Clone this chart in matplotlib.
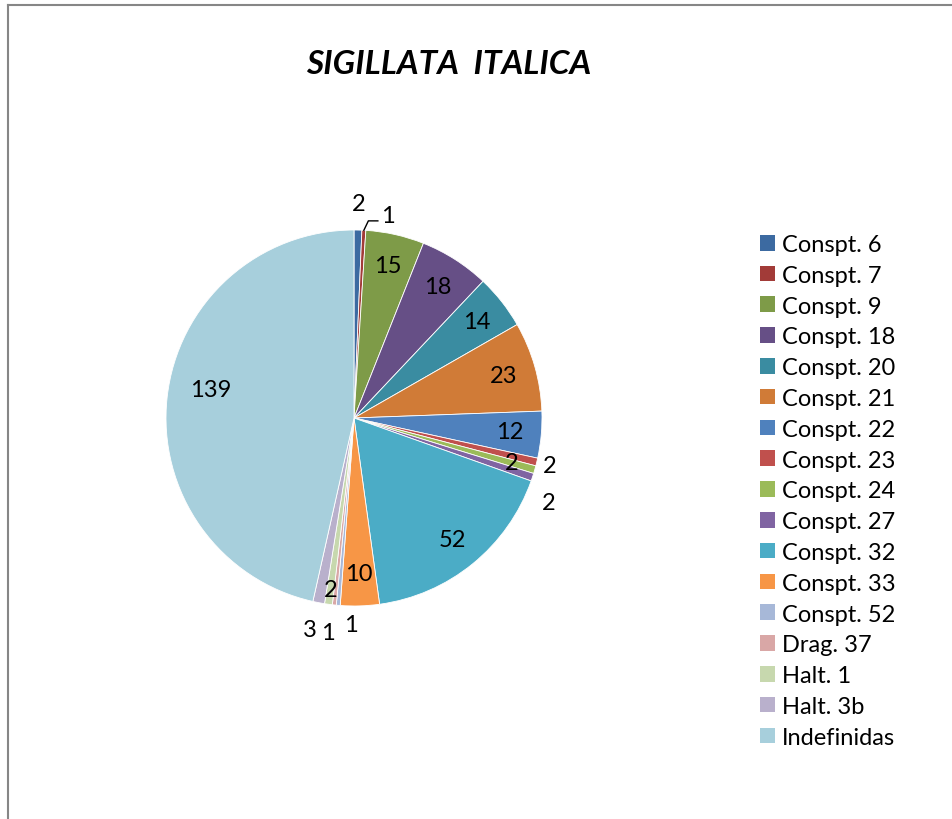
import numpy as np
import matplotlib
matplotlib.use("Agg")
import matplotlib.pyplot as plt
from matplotlib.patches import Patch
from matplotlib.lines import Line2D

categories = ["Consp. 6", "Consp. 7", "Consp. 9", "Consp. 18", "Consp. 20", "Consp. 21",
              "Consp. 22", "Consp. 23", "Consp. 24", "Consp. 27", "Consp. 32", "Consp. 33",
              "Consp. 52", "Drag. 37", "Halt. 1", "Halt. 3b", "Indefinidas"]
legend_labels = ["Consp" + "t" + c[5:] if c.startswith("Consp") else c for c in categories]
values = [2, 1, 15, 18, 14, 23, 12, 2, 2, 2, 52, 10, 1, 1, 2, 3, 139]
title = "SIGILLATA  ITALICA"

colors = ["#3C6AA1", "#A23B38", "#7E9B48", "#664F86", "#3A8CA1", "#D07B37",
          "#4F81BD", "#C0504D", "#9BBB59", "#8064A2", "#4BACC6", "#F79646",
          "#A7B8D8", "#D9A7A6", "#C7D8AE", "#B9B0CC", "#A7CFDC"]
# label placement style: (radial distance factor, angular offset in degrees)
label_style = {0: (1.14, 0), 1: (1.09, -6.5), 7: (1.07, 0), 8: (0.87, 0), 9: (1.13, -5),
               12: (1.10, 4), 13: (1.15, -1), 14: (0.92, 0), 15: (1.15, -1),
               16: (0.78, -5)}
default_label_dist = 0.83

FONT = ["Lato", "DejaVu Sans"]
plt.rcParams['font.family'] = FONT

W, H = 952, 820
fig = plt.figure(figsize=(W / 100, H / 100), dpi=100)
ax = fig.add_axes([0, 0, 1, 1])

cx, cy, R = 354, H - 419, 188
wedges, _ = ax.pie(values, colors=colors, startangle=90, counterclock=False,
                   center=(cx, cy), radius=R, frame=True,
                   wedgeprops=dict(edgecolor="white", linewidth=0.6))
ax.set_xlim(0, W)
ax.set_ylim(0, H)
ax.set_aspect('equal')
ax.axis('off')

for i, (w, v) in enumerate(zip(wedges, values)):
    mid = (w.theta1 + w.theta2) / 2.0
    dist, off = label_style.get(i, (default_label_dist, 0))
    ang = np.deg2rad(mid + off)
    tx, ty = cx + dist * R * np.cos(ang), cy + dist * R * np.sin(ang)
    ax.text(tx, ty, str(v), ha='center', va='center', fontsize=17, color='black')
    if i == 1:
        a0 = np.deg2rad(mid)
        x0, y0 = cx + R * np.cos(a0), cy + R * np.sin(a0)
        x1, y1 = cx + 1.05 * R * np.cos(a0) + 4, cy + 1.05 * R * np.sin(a0)
        ax.plot([x0, x1, tx - 10], [y0, y1, y1], color='black', lw=1)

handles = [Patch(facecolor=c, edgecolor='none') for c in colors]
leg = ax.legend(handles, legend_labels, loc='upper left', bbox_to_anchor=(760, H - 235),
                bbox_transform=ax.transData, frameon=False, fontsize=17,
                handlelength=0.64, handleheight=0.64, handletextpad=0.3,
                labelspacing=0.415, borderpad=0, borderaxespad=0)

fig.text(449 / W, 1 - 65 / H, title, ha='center', va='center', fontsize=24,
         fontweight='bold', fontstyle='italic')

# chart frame (left and top edges visible)
fig.add_artist(Line2D([8 / W, 8 / W], [0, 1 - 6 / H], color='#868686', lw=1.5))
fig.add_artist(Line2D([8 / W, 1], [1 - 6 / H, 1 - 6 / H], color='#868686', lw=1.5))

fig.savefig("out.png", dpi=100, facecolor='white')
